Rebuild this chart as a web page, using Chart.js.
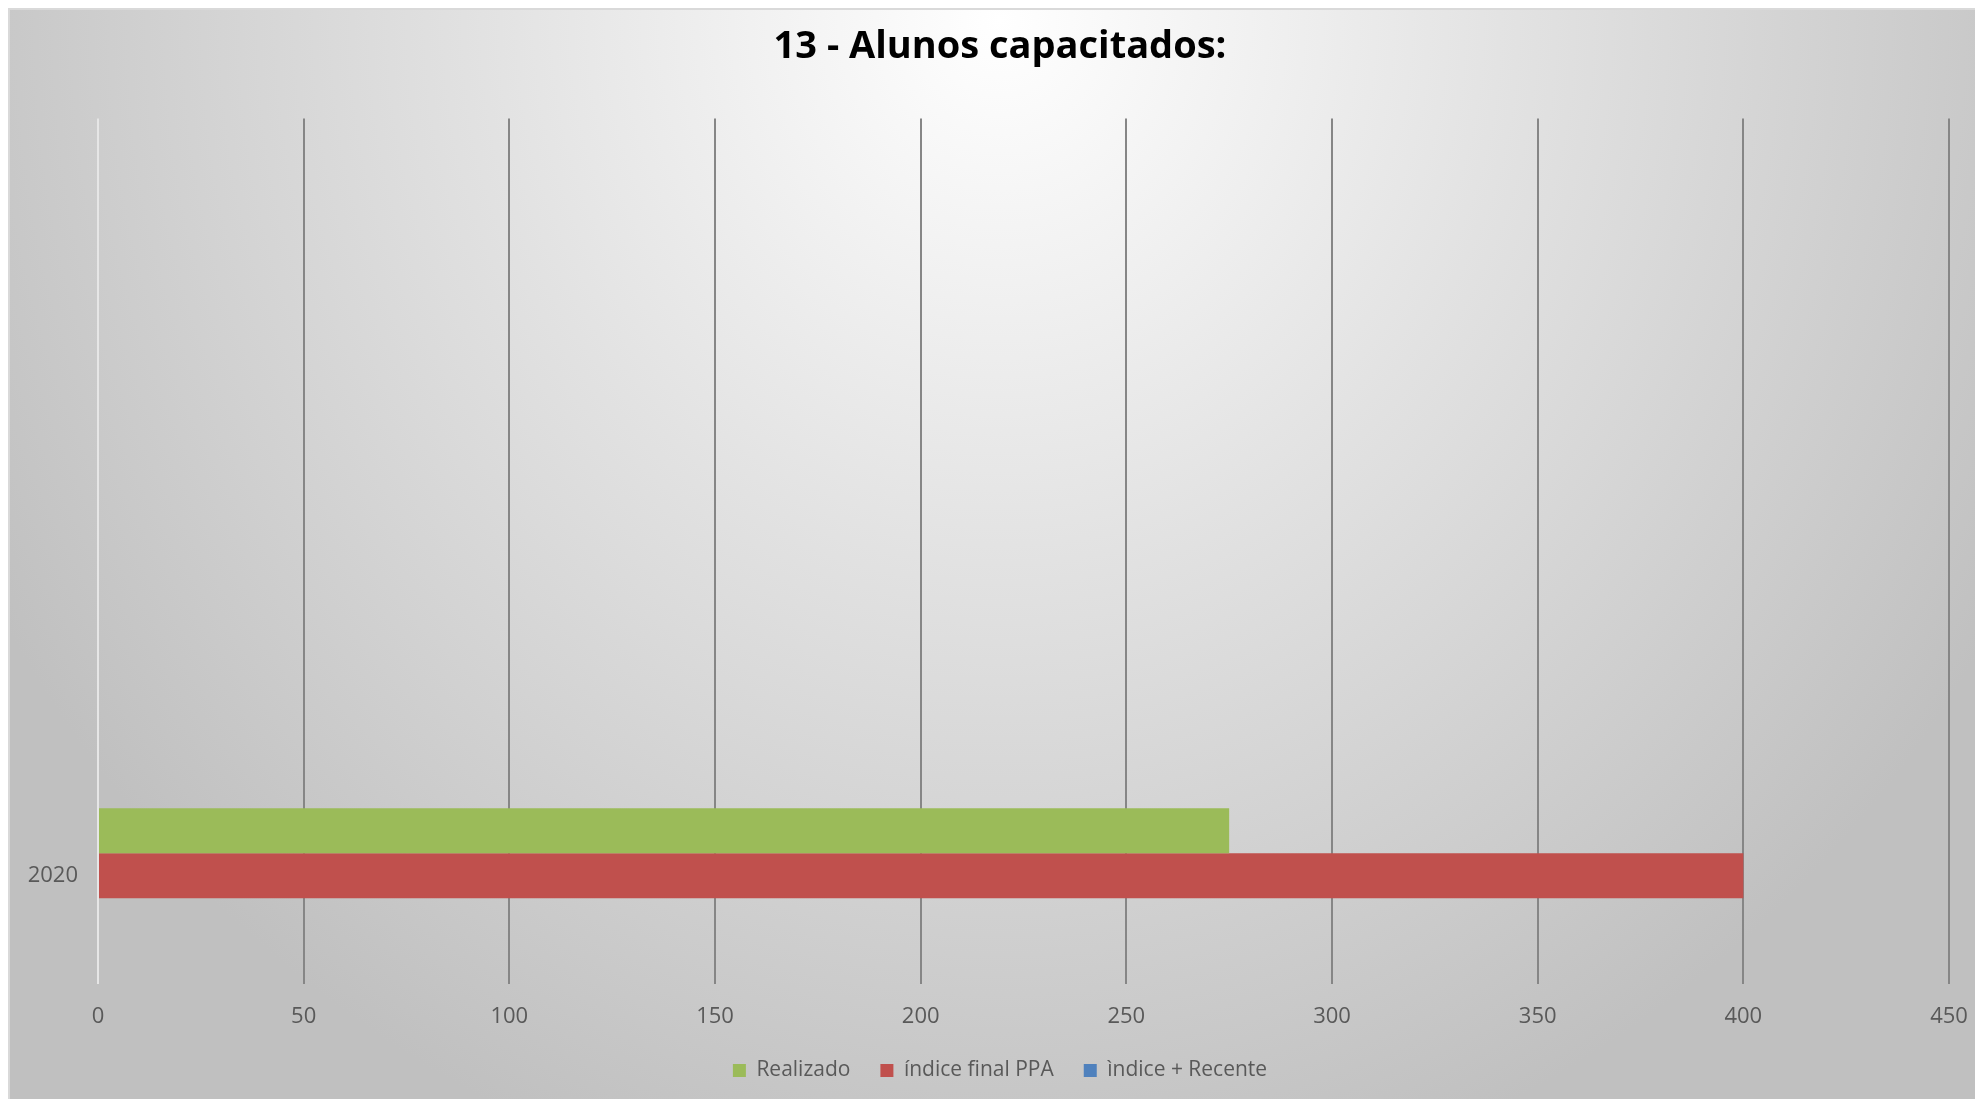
<!DOCTYPE html>
<html>
<head>
<meta charset="utf-8">
<script src="https://cdn.jsdelivr.net/npm/chart.js@4.4.0/dist/chart.umd.min.js"></script>
<style>
  html, body { margin: 0; padding: 0; background: #ffffff; }
  #wrap { position: absolute; left: 0; top: 0; width: 1975px; height: 1099px; }
</style>
</head>
<body>
<div id="wrap"><canvas id="alunosChart"></canvas></div>
<script>
// data
const categories = ['', '', '', '2020'];
const realizado = [null, null, null, 275];
const indiceFinalPPA = [null, null, null, 400];
const indiceRecente = [null, null, null, null];
const xTicks = [0, 50, 100, 150, 200, 250, 300, 350, 400, 450];

// gray radial background like the spreadsheet chart area
const backgroundPlugin = {
    id: 'sheetBackground',
    beforeDraw(chart) {
        const c = chart.ctx;
        const w = chart.width, h = chart.height;
        c.save();
        c.fillStyle = '#ffffff';
        c.fillRect(0, 0, w, h);
        c.translate(1000, 20);
        c.scale(1.0, 1.05);
        const g = c.createRadialGradient(0, 0, 0, 0, 0, 1150);
        g.addColorStop(0, '#ffffff');
        g.addColorStop(0.45, '#e2e2e2');
        g.addColorStop(1, '#c0c0c0');
        c.fillStyle = g;
        c.fillRect(9 - 1000, (9 - 20) / 1.05, w, h / 1.05);
        c.restore();
        c.save();
        c.strokeStyle = '#d9d9d9';
        c.lineWidth = 2;
        c.beginPath();
        c.moveTo(9, h);
        c.lineTo(9, 9);
        c.lineTo(w, 9);
        c.stroke();
        c.restore();
    }
};

const ctx = document.getElementById('alunosChart');
const alunosChart = new Chart(ctx, {
    type: 'bar',
    data: {
        labels: categories,
        datasets: [
            { label: 'Realizado', data: realizado, backgroundColor: '#9bbb59' },
            { label: 'índice final PPA', data: indiceFinalPPA, backgroundColor: '#c0504d' },
            { label: 'ìndice + Recente', data: indiceRecente, backgroundColor: '#4f81bd' }
        ]
    },
    options: {
        indexAxis: 'y',
        responsive: true,
        maintainAspectRatio: false,
        animation: false,
        categoryPercentage: 0.625,
        barPercentage: 1.0,
        layout: {
            padding: { left: 25, right: 0, top: 0, bottom: 8 }
        },
        plugins: {
            tooltip: { enabled: false },
            title: {
                display: true,
                text: '13 - Alunos capacitados:',
                color: '#000000',
                font: { family: 'Open Sans', size: 38, weight: 'bold' },
                padding: { top: 24, bottom: 49 }
            },
            legend: {
                display: true,
                position: 'bottom',
                labels: {
                    boxWidth: 13,
                    boxHeight: 13,
                    padding: 30,
                    color: '#595959',
                    font: { family: 'Open Sans', size: 21 }
                }
            }
        },
        scales: {
            x: {
                min: 0,
                max: 450,
                afterBuildTicks(scale) {
                    scale.ticks = xTicks.map(v => ({ value: v }));
                },
                afterFit(scale) {
                    scale.height = 46;
                    scale.paddingLeft = 0;
                    scale.paddingRight = 26;
                },
                border: { display: false },
                grid: {
                    drawTicks: false,
                    lineWidth: 2,
                    color: c => (c.tick && c.tick.value === 0) ? '#e6e6e6' : '#868686'
                },
                ticks: {
                    padding: 20,
                    color: '#595959',
                    font: { family: 'Open Sans', size: 22 }
                }
            },
            y: {
                afterFit(scale) {
                    scale.width = 73;
                },
                border: { display: false },
                grid: { display: false, drawTicks: false },
                ticks: {
                    padding: 20,
                    color: '#595959',
                    font: { family: 'Open Sans', size: 22 }
                }
            }
        }
    },
    plugins: [backgroundPlugin]
});
</script>
</body>
</html>
